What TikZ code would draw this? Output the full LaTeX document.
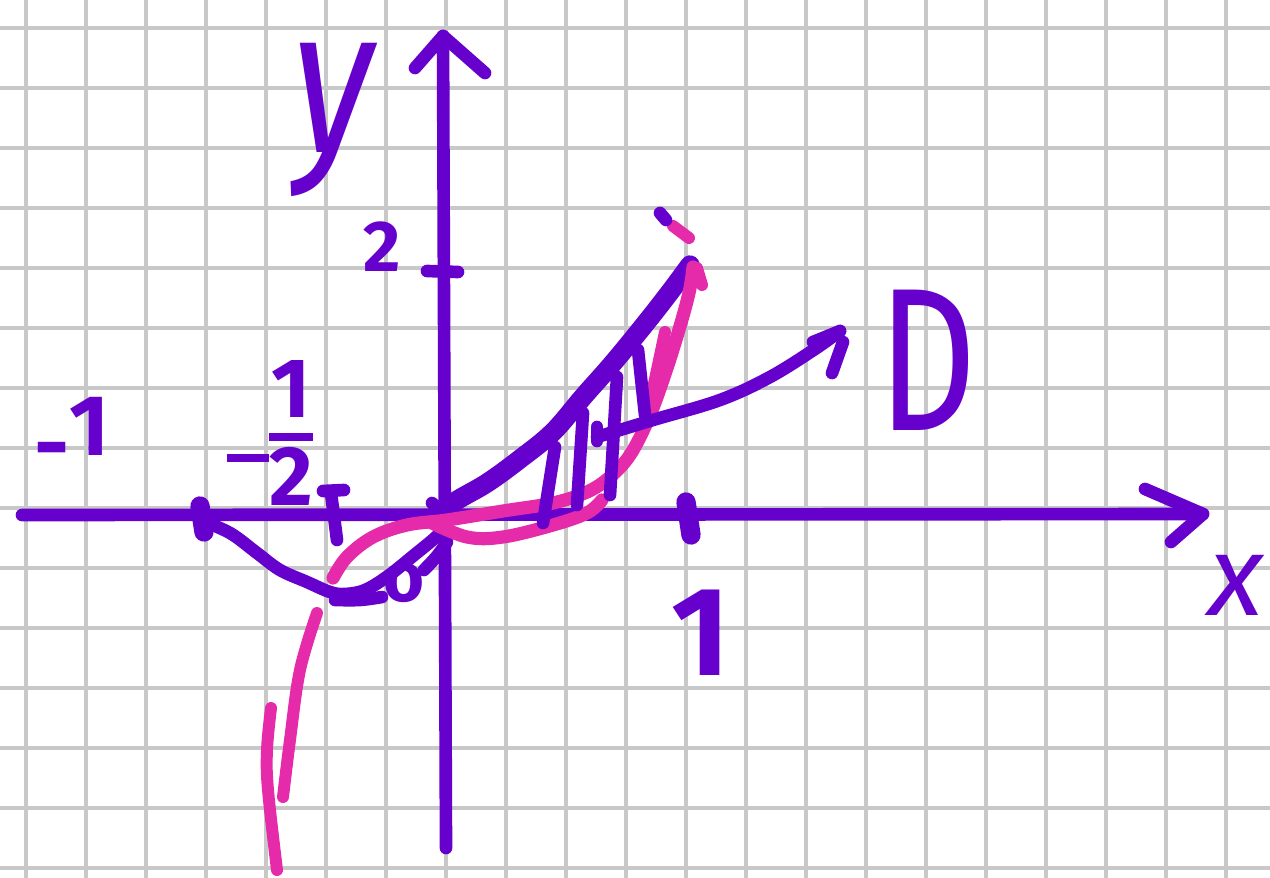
\documentclass[tikz,border=0pt]{standalone}
\usepackage{fontspec}
\setmainfont{Fira Sans}
\definecolor{pur}{RGB}{102,0,204}
\definecolor{pnk}{RGB}{229,43,170}
\definecolor{gridc}{RGB}{200,200,200}
\begin{document}
\begin{tikzpicture}[x=0.02cm,y=-0.02cm,line cap=round,line join=round,
  pen/.style={draw=pur,line width=7.2pt},
  thickpen/.style={draw=pur,line width=11pt},
  pinkpen/.style={draw=pnk,line width=6.8pt},
  gridline/.style={draw=gridc,line width=1.8pt},
  lbl/.style={text=pur,inner sep=0pt}]
\useasboundingbox (0,0) rectangle (1270,878);
\fill[white] (0,0) rectangle (1270,878);
% grid
\foreach \x in {26,86,...,1226} \draw[gridline] (\x,0) -- (\x,878);
\foreach \y in {28,88,...,868} \draw[gridline] (0,\y) -- (1270,\y);
% axes
\coordinate (xs) at (22,515);
\coordinate (xe) at (1203,514);
\coordinate (xa1) at (1145,489);
\coordinate (xa2) at (1171,542);
\coordinate (ys) at (446,848);
\coordinate (ye) at (443,36);
\coordinate (ya1) at (415,68);
\coordinate (ya2) at (485,73);
\draw[pen] (xs) -- (xe);
\draw[pen] (xa1) -- (xe) -- (xa2);
\draw[pen] (ys) -- (ye);
\draw[pen] (ya1) -- (ye) -- (ya2);
% ticks
\draw[thickpen] (200,506) -- (204,532);
\draw[pen] (323,491) -- (344,490);
\draw[pen] (331,493) -- (337,540);
\draw[thickpen] (686,502) -- (691,535);
\draw[pen] (427,271) -- (458,272);
\draw[pen] (432,503) -- (446,515);
% purple parabola
\draw[pen] plot[smooth,tension=0.6] coordinates {(200,520) (230,533) (257,553) (280,570) (307,582) (330,592) (345,594) (365,590) (388,576) (413,556) (437,536) (447,523)};
\draw[pen] plot[smooth,tension=0.6] coordinates {(335,600) (360,600) (382,597)};
\draw[pen] plot[smooth,tension=0.6] coordinates {(424,570) (437,556) (447,542)};
\draw[thickpen] plot[smooth,tension=0.6] coordinates {(440,518) (453,503) (487,483) (520,459) (553,432) (583,397) (613,363) (645,324) (670,292) (690,265)};
% pink curve
\draw[pinkpen] plot[smooth,tension=0.6] coordinates {(277,870) (268,790) (267,750) (271,708)};
\draw[pinkpen] plot[smooth,tension=0.6] coordinates {(283,797) (290,740) (300,670) (317,613)};
\draw[pinkpen,line width=7.5pt] plot[smooth,tension=0.6] coordinates {(333,578) (347,557) (373,537) (407,525) (447,520) (503,511) (553,503) (587,492) (610,477) (630,455) (648,420) (663,380) (678,333) (689,293) (693,267)};
\draw[pinkpen,line width=7.5pt] plot[smooth,tension=0.6] coordinates {(430,522) (467,537) (503,537) (553,525) (587,513) (602,500)};
\draw[pinkpen] (648,412) -- (665,332);
\draw[pinkpen] (697,268) -- (702,285);
\draw[pinkpen] (673,226) -- (689,238);
\draw[pen] (660,213) -- (666,220);
% hatching
\draw[pen] (543,523) -- (555,447);
\draw[pen] (577,505) -- (583,413);
\draw[pen] (610,495) -- (617,377);
\draw[pen] (645,415) -- (638,350);
% arrow to D
\coordinate (ds) at (597,437);
\coordinate (dt) at (840,331);
\draw[pen] (597,427) -- (597,441);
\draw[pen] plot[smooth,tension=0.6] coordinates {(ds) (653,420) (720,400) (770,377) (815,349) (dt)};
\draw[pen] (813,342) -- (dt);
\draw[pen] (832,373) -- (843,342);
% labels
\node[lbl,font=\fontsize{118}{118}\selectfont\itshape,xscale=0.8] (ylab) at (333,120) {y};
\node[lbl,font=\fontsize{65}{65}\selectfont\itshape] (xlab) at (1236,585) {x};
\node[lbl,font=\fontsize{116}{116}\selectfont,xscale=0.75] (dlab) at (928,360) {D};
\node[lbl,font=\fontsize{41}{41}\selectfont\bfseries] (two) at (382,247) {2};
\node[lbl,font=\fontsize{72}{72}\selectfont\bfseries] (one) at (701,633) {1};
\node[lbl,font=\fontsize{49}{49}\selectfont\bfseries] (mone) at (72,436) {\raisebox{-0.22em}{-}1};
\node[lbl,font=\fontsize{48}{30}\selectfont\bfseries] (half) at (270,441)
  {\setlength{\arrayrulewidth}{4.5pt}\setlength{\tabcolsep}{0pt}\raisebox{-0.12em}{\rule{0.5em}{4.5pt}}\begin{tabular}{c}1\\[0pt]\hline\rule{0pt}{37pt}2\end{tabular}};
\node[lbl,font=\fontsize{40}{40}\selectfont\bfseries] (olab) at (404,583) {o};
\end{tikzpicture}
\end{document}
